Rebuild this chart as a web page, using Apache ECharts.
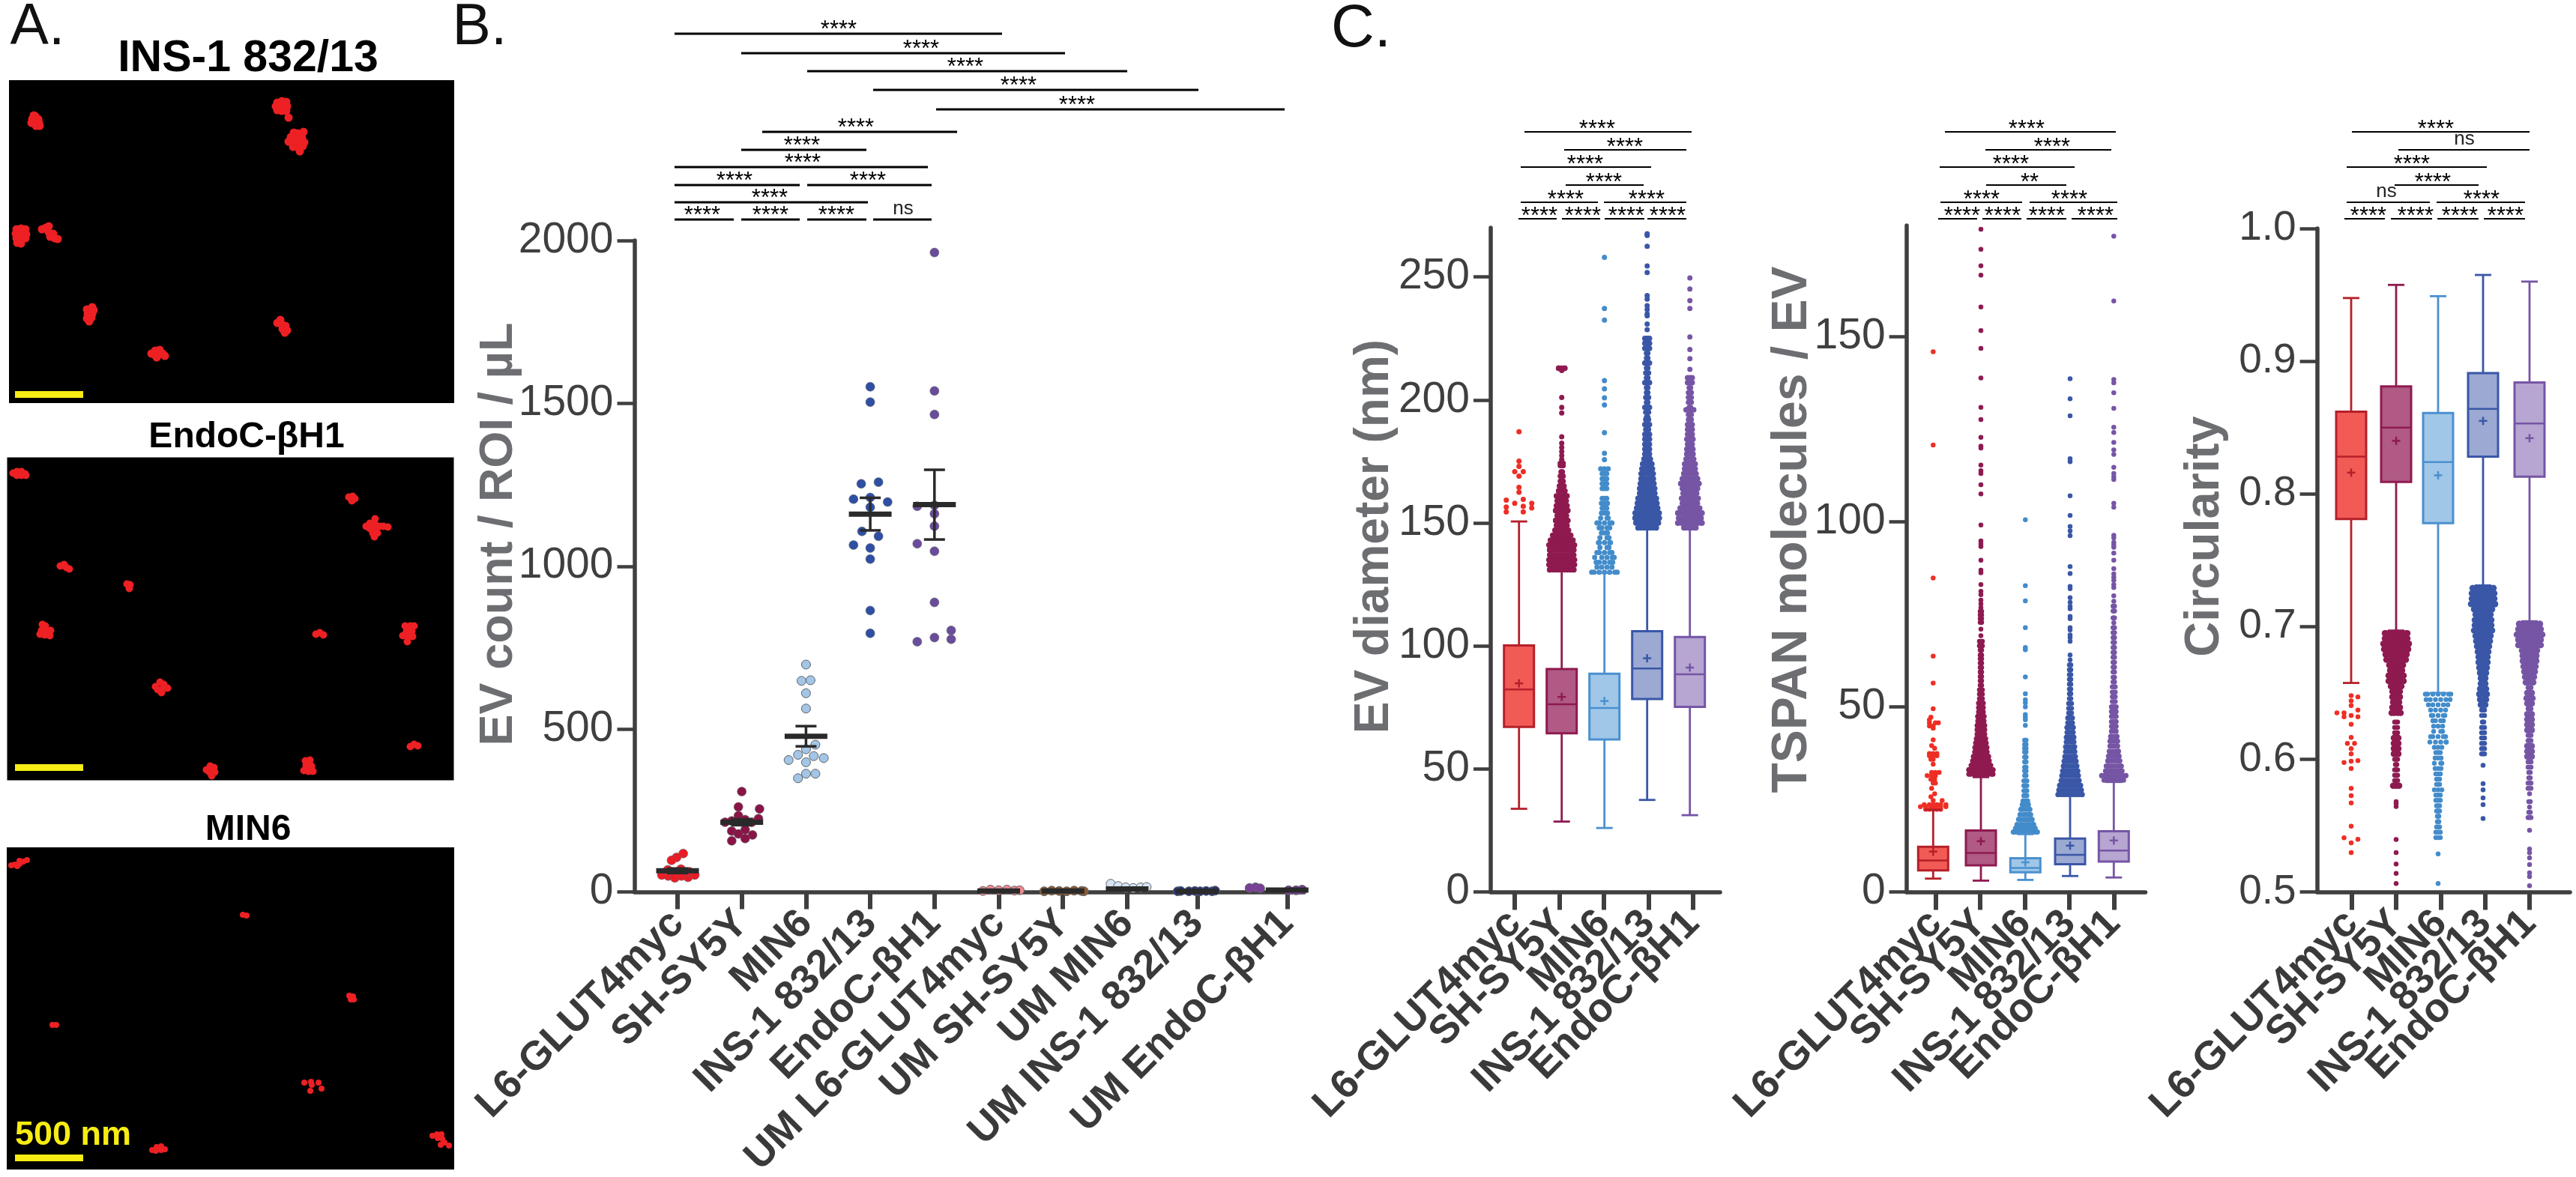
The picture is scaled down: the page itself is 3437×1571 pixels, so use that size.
<!DOCTYPE html>
<html><head><meta charset="utf-8">
<style>html,body{margin:0;padding:0;background:#fff}#c{width:3437px;height:1571px}</style>
<script src="https://cdn.jsdelivr.net/npm/echarts@6/dist/echarts.min.js"></script>
</head><body><div id="c"></div>
<script>
/* ---------- categories and tick labels ---------- */
const cellLines = ['L6-GLUT4myc','SH-SY5Y','MIN6','INS-1 832/13','EndoC-βH1'];
const umLines = ['UM L6-GLUT4myc','UM SH-SY5Y','UM MIN6','UM INS-1 832/13','UM EndoC-βH1'];
const countLabels = cellLines.concat(umLines);
const countTicks = [0,500,1000,1500,2000];
const diamTicks = [0,50,100,150,200,250];
const tspanTicks = [0,50,100,150];
const circTicks = [0.5,0.6,0.7,0.8,0.9,1.0];

/* ---------- panel B: EV count / ROI / µL  [offset px, value] ---------- */
const countL6 = [[7.6,118],[-1.3,106],[-8,97],[-21,52],[-12.5,49],[-3.6,43],[5.4,49],[14,45],[23,52],[-13,68],[4.5,70],[15.6,62]];
const countSH = [[0,308],[-4.5,261],[23.7,255],[-4.5,234],[22.3,225],[-22.3,214],[-13.4,218],[4.5,222],[13.4,214],[-13.4,187],[-4.5,178],[4.5,191],[14.3,175],[-13.4,157],[4.5,164]];
const countMIN6 = [[0,698],[-6,648],[6,650],[0,610],[0,563],[12.5,452],[0,438],[-10.7,421],[10.3,417],[23.7,411],[-23.2,405],[0,398],[0,363],[12.5,363],[-10.7,349]];
const countINS = [[0,1551],[0,1504],[-12,1253],[11,1258],[-22.3,1206],[0,1211],[23.2,1197],[0,1181],[-11,1107],[11,1092],[-22.3,1065],[0,1056],[0,1022],[0,864],[0,794]];
const countEndo = [[0,1963],[0,1538],[0,1466],[-23,1184],[0,1187],[0,1161],[0,1123],[-23,1069],[0,1046],[0,889],[22.3,803],[22.3,776],[0,781],[-23,768]];
const countUML6 = [[-21,3],[-11,7],[0,5],[11,7],[21,4],[28,5]];
const countUMSH = [[-25,2],[-15,4],[-5,3],[5,2],[15,4],[25,3],[28,2]];
const countUMMIN6 = [[-22,25],[-12,18],[-2,14],[8,12],[18,14],[26,15]];
const countUMINS = [[-26,2],[-22,3],[-11,2],[-3,3],[4,2],[12,3],[20,2],[24,4]];
const countUMEndo = [[-50,12],[-42,14],[-36,11],[2,5],[12,5],[20,7]];
const countMean = [65,214,478,1160,1189,3,3,9,2,6];
const countSem  = [7,9,31,50,107,1,1,2,1,1];

/* ---------- panel C: box statistics [low, q1, median, q3, high, mean] ---------- */
const diamBoxes = [[33.8,67.1,82.3,100.2,150.6,84.8],[28.6,64.5,76.3,90.6,130.8,79.3],[26,62,74.8,88.7,129.7,77.6],[37.4,78.4,90.8,106,149,95],[31.2,75.2,88.5,103.6,149,91.2]];
const tspanBoxes = [[3.6,5.8,8.5,12.2,22.2,10.9],[3.05,7.2,10.5,16.6,31,13.7],[3.25,5.3,6.5,9.1,15.6,8],[4.3,7.5,10,14.4,26,12.5],[3.9,8.2,11.2,16.4,29.7,13.9]];
const circBoxes = [[0.6575,0.781,0.828,0.862,0.9476,0.816],[0.697,0.809,0.85,0.881,0.9575,0.84],[0.65,0.778,0.824,0.861,0.949,0.814],[0.731,0.828,0.864,0.891,0.965,0.855],[0.704,0.813,0.853,0.884,0.96,0.842]];

/* ---------- panel C outliers: first group [offset px, value], others [value, half spread px] ---------- */
const diamL6 = [[0,187.1],[0,175.1],[0,173],[-5.7,170.9],[5.7,170.9],[0,169],[0,164.5],[0,162.5],[-17,159.3],[5.7,159.6],[-5.7,158],[17,158],[-17,156.5],[5.7,156.8],[17,156.1],[-17,154.5],[5.7,154.5]];
const diamSH = [[212.9,4],[212,0],[201,0],[197,0],[194.7,0],[185,0],[182.4,0],[180.7,0],[179,0],[177.4,0],[175.8,0],[174.3,2],[173.3,2],[170.8,1],[169.2,1],[169,2],[167,2],[165,3],[163,4],[161,7],[159,6],[157,7],[155,8],[153,6],[151,8],[149,7],[147,9],[145,12],[143,15],[141,17],[139,16],[137,16],[135,17],[133,17],[131,16]];
const diamMIN6 = [[258,0],[237.2,0],[232.5,0],[207.9,0],[204.5,0],[200.9,0],[198,0],[186.7,0],[178.3,0],[175.7,0],[172,5],[170,3],[168,3],[166,3],[164,3],[160,3],[158,4],[156,3],[154,4],[152,5],[150,10],[148,7],[146,4],[144,6],[142,8],[140,6],[138,10],[136,13],[134,11],[132,10],[130,17]];
const diamINS = [[267.6,0],[266.9,0],[262.5,0],[254.5,0],[251.8,0],[242.4,0],[241,0],[238.3,0],[236.8,0],[235,0],[234.2,0],[230.9,0],[228.6,0],[225,3],[223,3],[221,3],[219,1],[217,1],[215,3],[213,1],[211,2],[209,1],[207,3],[205,1],[203,1],[201,2],[199,1],[197,3],[195,2],[193,1],[192,2],[190,3],[188,2],[186,3],[184,3],[182,3],[180,3],[178,3],[176,4],[174,6],[172,7],[170,8],[168,8],[166,9],[164,10],[162,10],[160,12],[158,13],[156,14],[154,16],[152,16],[150,15],[148,12]];
const diamEndo = [[249.6,0],[245.1,0],[240.4,0],[237.2,0],[225.6,0],[220.5,0],[216.8,0],[212.4,0],[209,3],[207,3],[205,1],[203,2],[201,2],[199,2],[197,1],[196,5],[194,2],[192,2],[190,3],[188,3],[186,3],[184,4],[182,3],[180,4],[178,4],[176,5],[174,7],[172,7],[170,8],[168,10],[166,12],[164,10],[162,9],[160,11],[158,10],[156,13],[154,16],[152,15],[150,16],[148,8]];

const tspanL6 = [[0,145.9],[0,120.7],[0,84.8],[0,63.7],[0,56.4],[0,49.5],[-3,47.2],[-5,46.5],[-5,45.7],[3,45.7],[7,45.7],[-5,44.8],[0,44.8],[0,44.2],[0,41.1],[-2,39.5],[2,38.8],[-5,37.4],[0,37.4],[5,37.4],[-5,36.8],[0,36.8],[5,36.8],[-3,35.8],[0,35.8],[0,34.5],[-2,32.3],[3,32.3],[8,32.3],[-8,31.4],[-2,31.4],[3,31.4],[-3,30.4],[2,30.4],[0,29.4],[3,29.4],[-2,28],[2,26.5],[-3,25.7],[0,24.7],[12,24.7],[-12,23.6],[-5,23.6],[0,23.6],[5,23.6],[10,23.6],[17,23.6],[-17,23],[-10,23],[-3,23],[3,23],[10,23],[17,23],[-10,22.3],[-5,22.3],[0,22.3],[5,22.3],[10,22.3]];
const tspanSH = [[179,0],[173.6,0],[169.1,0],[166.6,0],[158,0],[151.6,0],[146.8,0],[138.8,0],[130.9,0],[127.6,0],[122.8,0],[120.4,0],[119.9,0],[115.3,0],[113.8,0],[113,0],[110,0],[107.5,0],[99.1,0],[94.8,0],[94,0],[93.3,0],[89.6,0],[86.9,0],[86.2,0],[83,0],[81.2,0],[80.3,0],[78.8,0],[77.8,0],[76.8,0],[75.8,1],[74.8,1],[73.8,1],[72.8,1],[71,0],[69.2,0],[67.7,2],[66.5,2],[65.3,1],[64,1],[63,1],[61.8,1],[60.6,1],[59.4,1],[58.2,1],[57,1],[55.8,1],[54.6,2],[53.4,2],[52.2,2],[51,3],[49.8,3],[48.6,3],[47.4,4],[46.2,4],[45,5],[43.8,5],[42.6,5],[41.4,6],[40.2,7],[39,8],[37.8,8],[36.6,10],[35.4,11],[34.2,13],[33,16],[31.8,16]];
const tspanMIN6 = [[100.5,0],[82.7,0],[78.6,0],[71.4,0],[66,0],[65.4,0],[58.1,0],[53.5,0],[51.9,0],[51.1,0],[50,0],[47.9,0],[47.2,0],[46.5,0],[45,0],[41,1],[39.8,1],[38.8,1],[37.8,1],[36.4,1],[35.1,1],[33.7,1],[32.7,1],[31.4,1],[30,2],[28.7,2],[27.3,2],[26,2],[24.6,3],[23.6,4],[22.3,6],[20.9,7],[19.6,9],[18.2,11],[17.2,13],[16.2,16]];
const tspanINS = [[138.6,0],[133.2,0],[128.6,0],[117,0],[116.2,0],[107,0],[101.7,0],[98.7,0],[97.5,0],[96.2,0],[87.9,0],[86,0],[82.5,0],[81.9,0],[79.5,0],[78.2,0],[77.1,0],[76.5,0],[74.4,0],[73.8,0],[71.4,0],[70.8,0],[69.4,0],[68.7,0],[67.7,0],[64,0],[62.7,0],[61.3,1],[60,1],[58.7,1],[57.4,1],[56.1,1],[54.8,1],[53.5,1],[52.2,1],[50.9,2],[49.6,2],[48.3,2],[47,3],[45.7,3],[44.4,4],[43.1,4],[41.8,5],[40.5,5],[39.2,6],[37.9,6],[36.6,7],[35.3,8],[34,9],[32.7,10],[31.4,11],[30.1,12],[28.8,14],[27.5,15],[26.3,16]];
const tspanEndo = [[177.1,0],[159.6,0],[138.4,0],[137.5,0],[134.8,0],[130.6,0],[125.5,0],[124.1,0],[121.4,0],[119.4,0],[118.2,0],[114.7,0],[113,0],[112.1,0],[111.4,0],[105,0],[103.9,0],[96.3,0],[95.6,0],[94.4,0],[93.7,0],[93.1,0],[91.5,0],[89.6,0],[87.3,0],[85.9,0],[85,0],[84.2,0],[83,0],[82.2,0],[80,0],[78.5,0],[77.2,1],[75.9,1],[74,1],[72.7,0],[71.4,1],[70,1],[68.7,1],[67.4,1],[66,1],[64.7,1],[63.4,1],[62,1],[60.7,1],[59.4,1],[58,1],[56.7,1],[55.4,2],[54,2],[52.7,2],[51.4,2],[50,3],[48.7,3],[47.4,3],[46,3],[44.7,3],[43.4,3],[42,4],[40.7,5],[39.4,5],[38,6],[36.7,7],[35.4,8],[34,10],[32.7,11],[31.4,16],[30.2,13]];

const circL6 = [[0,0.648],[9,0.647],[0,0.644],[0,0.6405],[9,0.637],[-9.5,0.635],[-19,0.635],[-9.5,0.632],[0,0.633],[9,0.632],[0,0.6264],[0,0.6164],[-5,0.612],[4.5,0.612],[0,0.608],[0,0.604],[9,0.599],[0,0.5986],[-9.5,0.5976],[0,0.593],[0,0.578],[0,0.5726],[0,0.567],[0,0.5496],[-9.5,0.5408],[9,0.5396],[0,0.537],[0,0.5297]];
const circSH = [[0.695,15],[0.691,15],[0.687,17],[0.683,16],[0.679,14],[0.675,13],[0.671,9],[0.667,8],[0.663,10],[0.659,10],[0.655,7],[0.651,5],[0.647,5],[0.643,4],[0.639,5],[0.635,6],[0.628,2],[0.624,2],[0.62,2],[0.616,3],[0.612,3],[0.608,3],[0.604,3],[0.6,2],[0.596,1],[0.592,2],[0.588,2],[0.584,2],[0.58,4],[0.568,0],[0.5666,0],[0.5643,0],[0.5395,0],[0.5297,0],[0.521,0],[0.514,0],[0.5063,0]];
const circMIN6 = [[0.649,17],[0.645,16],[0.641,13],[0.637,10],[0.633,9],[0.629,7],[0.625,6],[0.621,6],[0.617,10],[0.613,11],[0.609,5],[0.605,3],[0.601,4],[0.597,5],[0.593,4],[0.589,3],[0.585,2],[0.581,2],[0.577,5],[0.573,3],[0.569,3],[0.565,2],[0.561,2],[0.557,1],[0.553,1],[0.549,2],[0.545,3],[0.541,3],[0.5287,0],[0.5063,0]];
const circINS = [[0.729,14],[0.725,15],[0.721,15],[0.717,16],[0.713,12],[0.709,10],[0.705,11],[0.701,11],[0.697,12],[0.693,10],[0.689,9],[0.685,8],[0.681,7],[0.677,6],[0.673,6],[0.669,5],[0.665,4],[0.661,3],[0.657,3],[0.653,4],[0.649,5],[0.645,4],[0.641,3],[0.637,2],[0.633,2],[0.628,1],[0.624,2],[0.62,2],[0.616,2],[0.612,2],[0.608,2],[0.604,2],[0.5954,0],[0.5816,0],[0.577,0],[0.5709,0],[0.5658,0],[0.5553,0]];
const circEndo = [[0.702,14],[0.698,15],[0.694,17],[0.69,15],[0.686,15],[0.682,10],[0.678,9],[0.674,9],[0.67,8],[0.666,7],[0.662,6],[0.658,5],[0.654,2],[0.65,3],[0.646,4],[0.642,3],[0.638,2],[0.634,3],[0.63,3],[0.626,3],[0.622,3],[0.618,2],[0.614,2],[0.61,3],[0.606,3],[0.602,3],[0.598,2],[0.594,2],[0.59,1],[0.586,1],[0.582,2],[0.578,2],[0.574,0],[0.568,1],[0.564,0],[0.56,1],[0.556,2],[0.5464,0],[0.5323,0],[0.5295,0],[0.5257,0],[0.5206,0],[0.5144,0],[0.5116,0],[0.5046,0]];

/* ---------- panel A: localisations in each image ---------- */
const imageINS = [[35,48],[31,52],[39,52],[30,57],[35,56],[40,57],[36,61],[41,61],[33,47],[358,30],[364,28],[370,29],[356,35],[363,35],[371,35],[358,40],[364,41],[370,41],[373,50],[380,70],[385,71],[376,76],[383,76],[391,77],[373,82],[380,83],[388,83],[394,83],[379,89],[386,90],[392,88],[388,95],[393,69],[10,199],[16,198],[22,199],[9,205],[16,205],[23,206],[10,211],[16,212],[22,211],[11,217],[16,218],[53,203],[59,205],[55,209],[61,211],[65,212],[44,199],[49,197],[53,195],[104,306],[111,303],[113,307],[105,312],[111,312],[104,318],[110,317],[107,322],[362,320],[358,324],[364,326],[369,328],[365,332],[371,334],[368,337],[190,365],[195,361],[201,360],[195,367],[201,366],[205,365],[197,370],[208,368]];
const imageEndo = [[8,21],[13,19],[19,19],[24,22],[13,24],[19,24],[25,24],[456,53],[461,52],[464,55],[460,58],[479,92],[484,88],[490,87],[484,95],[491,95],[497,92],[488,101],[494,101],[490,106],[502,92],[508,93],[491,82],[71,145],[76,143],[79,147],[83,149],[160,169],[164,170],[163,175],[47,223],[51,225],[46,231],[52,232],[58,231],[44,236],[50,237],[57,238],[412,236],[417,234],[422,237],[531,225],[538,225],[543,225],[533,232],[540,232],[528,238],[535,240],[541,239],[534,246],[198,306],[204,300],[209,303],[201,310],[208,309],[214,308],[206,314],[266,417],[271,412],[276,414],[270,420],[277,420],[273,425],[398,405],[404,404],[399,411],[406,412],[396,418],[402,419],[408,419],[538,386],[543,383],[548,385]];
const imageMIN6 = [[6,24],[11,23],[17,22],[22,19],[27,17],[17,18],[14,25],[315,90],[320,91],[61,237],[66,237],[457,198],[462,199],[459,203],[463,203],[397,314],[406,313],[407,317],[416,314],[405,325],[420,322],[194,404],[200,400],[206,399],[211,403],[199,405],[206,404],[568,385],[574,383],[580,383],[575,388],[581,389],[584,394],[590,398],[579,397]];

/* ---------- significance annotations: [x1, x2, line y, text x] on the page ---------- */
const sigB = [[900,1337,45,1119],[989,1421,71,1229],[1077,1504,95,1288],[1165,1599,120,1359],[1249,1714,146,1437],[1017,1277,176,1142],[989,1156,200,1070],[900,1238,223,1071],[900,1067,247,980],[1077,1243,247,1158],[900,1158,270,1027],[900,979,293,937],[989,1067,293,1028],[1077,1156,293,1116],[1165,1243,293,1205]];
const sigBText = ['****','****','****','****','****','****','****','****','****','****','****','****','****','****','ns'];
const sigYs = [176,200,223,247,270,270,292,292,292,292];
const sigC1 = [[2034,2257,2131],[2087,2250,2168],[2029,2203,2115],[2089,2193,2140],[2029,2132,2089],[2140,2250,2197],[2026,2077,2054],[2084,2135,2112],[2141,2194,2170],[2198,2250,2225]];
const sigC1Text = ['****','****','****','****','****','****','****','****','****','****'];
const sigC2 = [[2595,2823,2704],[2649,2817,2738],[2588,2768,2683],[2650,2757,2708],[2589,2698,2644],[2708,2825,2761],[2586,2638,2618],[2645,2697,2672],[2704,2757,2731],[2764,2825,2796]];
const sigC2Text = ['****','****','****','**','****','****','****','****','****','****'];
const sigC3 = [[3138,3375,3250],[3200,3375,3288],[3131,3318,3218],[3195,3307,3246],[3131,3242,3184],[3251,3369,3311],[3128,3182,3160],[3190,3245,3223],[3252,3307,3282],[3314,3369,3343]];
const sigC3Text = ['****','ns','****','****','ns','****','****','****','****','****'];

/* ---------- styles ---------- */
const FONT = '"Liberation Sans", Arial, sans-serif';
const AXIS = '#3f3f3f', NAME = '#6d6e71';
const stroke = ['#b5202a','#8e1a50','#4a90cf','#3a57a7','#7655a5'];
const fill = ['#f15a55','#b05a85','#a0c7e8','#9ba9d3','#b7a5d2'];
const dot = ['#ee2e24','#8e1a50','#438ccb','#3a57a7','#7655a5'];
const countFill = ['#ed1c24','#8a1445','#a3c5e6','#2e4fa3','#6a4c9c','#ef8a8f','#8c5a30','#d5e4f3','#25347a','#7b3f98'];

const grids=[], xAxes=[], yAxes=[], series=[];
function addGrid(g,x,y){g.outerBoundsMode='none';g.containLabel=false;grids.push(g);xAxes.push(Object.assign({gridIndex:grids.length-1},x));yAxes.push(Object.assign({gridIndex:grids.length-1},y));return grids.length-1;}
const hiddenAxis = {show:false,type:'value',axisLine:{show:false},axisTick:{show:false},axisLabel:{show:false},splitLine:{show:false}};

/* images */
[[12,107,594,431,imageINS,419.5,8,11],[9.5,610.5,596,431,imageEndo,414,10.5,10],[9,1131,597,430,imageMIN6,414.5,11,8]].forEach(a=>{
  const g=addGrid({left:a[0],top:a[1],width:a[2],height:a[3],show:true,backgroundColor:'#000',borderWidth:0},
    Object.assign({},hiddenAxis,{min:0,max:a[2]}),Object.assign({},hiddenAxis,{min:0,max:a[3],inverse:true}));
  series.push({type:'scatter',xAxisIndex:g,yAxisIndex:g,data:a[4],symbolSize:a[7],itemStyle:{color:'#ed2024',opacity:1},silent:true});
  series.push({type:'line',xAxisIndex:g,yAxisIndex:g,data:[[a[6],a[5]],[a[6]+91,a[5]]],symbol:'none',lineStyle:{color:'#f7ec13',width:9,cap:'butt'},silent:true});
});

function valueX(min,max,ticks,names,tickLen,margin){
  /* the axis ends get blank labels so that the min/max-label overlap check leaves the real ones alone */
  return {type:'value',min,max,splitLine:{show:false},
    axisLine:{show:true,onZero:false,lineStyle:{color:AXIS,width:5.5}},
    axisTick:{show:true,length:tickLen,inside:false,customValues:ticks,lineStyle:{color:AXIS,width:6}},
    axisLabel:{customValues:[min].concat(ticks,[max]),rotate:45,margin,color:'#3a3a3a',fontFamily:FONT,fontWeight:'bold',fontSize:54,
      hideOverlap:false,
      formatter:v=>{const i=ticks.indexOf(v);return i<0?'':names[i];}}};
}
function valueY(min,max,ticks,digits){
  return {type:'value',min,max,splitLine:{show:false},
    axisLine:{show:true,onZero:false,lineStyle:{color:AXIS,width:5.5}},
    axisTick:{show:true,length:23,customValues:ticks,lineStyle:{color:AXIS,width:4.5}},
    axisLabel:{customValues:ticks,margin:28,color:AXIS,fontFamily:FONT,fontSize:digits?55:57,
      showMinLabel:true,showMaxLabel:true,hideOverlap:false,
      formatter:v=>digits?v.toFixed(digits):String(v)}};
}

/* panel B */
const SPACE_B=85.7, FIRST_B=904;
const countPos=[0,1,2,3,4,5,6,7,8.09,9.49];
const gB=addGrid({left:846.5,top:321,width:893.5,height:869.5},
  valueX((846.5-FIRST_B)/SPACE_B,(1740-FIRST_B)/SPACE_B,countPos,countLabels,23,34),
  valueY(0,2000,countTicks,0));
[countL6,countSH,countMIN6,countINS,countEndo,countUML6,countUMSH,countUMMIN6,countUMINS,countUMEndo].forEach((pts,i)=>{
  series.push({type:'scatter',name:countLabels[i],xAxisIndex:gB,yAxisIndex:gB,symbolSize:12,
    data:pts.map(p=>[countPos[i]+p[0]/SPACE_B,p[1]]),
    itemStyle:{color:countFill[i],opacity:1,borderColor:'#5f6368',borderWidth:i<5&&i!==2?0.6:1}});
});
series.push({type:'custom',xAxisIndex:gB,yAxisIndex:gB,clip:false,z:5,
  data:countMean.map((m,i)=>[countPos[i],m,countSem[i]]),
  renderItem(p,api){
    const x=api.value(0),m=api.value(1),s=api.value(2);
    const c=api.coord([x,m]),t=api.coord([x,m+s]),b=api.coord([x,m-s]);
    const ls={stroke:'#2a2a2a',lineWidth:3.5}, W=28.5, C=14;
    const line=(x1,y1,x2,y2,st)=>({type:'line',shape:{x1,y1,x2,y2},style:st});
    return {type:'group',children:[
      line(c[0]-W,c[1],c[0]+W,c[1],{stroke:'#2a2a2a',lineWidth:7}),
      line(c[0],t[1],c[0],b[1],ls),
      line(c[0]-C,t[1],c[0]+C,t[1],ls),
      line(c[0]-C,b[1],c[0]+C,b[1],ls)]};
  }});

/* panel C */
function boxPanel(o){
  const xmin=(o.left-o.first)/o.space, xmax=(o.right-o.first)/o.space, ticks=[0,1,2,3,4];
  const g=addGrid({left:o.left,top:o.top,width:o.right-o.left,height:1190.5-o.top},
    valueX(xmin,xmax,ticks,cellLines,24,34),valueY(o.min,o.max,o.ticks,o.digits));
  const pos=o.boxPx.map(p=>(p-o.first)/o.space);
  o.swarms.forEach((rows,i)=>{
    const data=[];
    const sparse=(i===2&&o.sparseMIN6);
    const step=sparse?7:o.step;
    if(i===0){ rows.forEach(r=>data.push([pos[0]+r[0]/o.space,r[1]])); }
    else rows.forEach((r,ri)=>{
      /* beeswarm layout: a row's dots fan out from the centre; every other row is staggered */
      const v=r[0],h=r[1],n=Math.floor(h/step),size=(!sparse&&h>=o.denseFrom)?o.dense:o.dot;
      const shift=(h>=4&&ri%2)?step/2:0;
      const put=off=>data.push({value:[pos[i]+off/o.space,v],symbolSize:size});
      put(shift);
      for(let k=1;k<=n;k++){ if(k*step+shift<=h) put(k*step+shift); if(k*step-shift<=h) put(-k*step+shift); }
      if(h>0){put(h);put(-h);}
    });
    series.push({type:'scatter',name:cellLines[i],xAxisIndex:g,yAxisIndex:g,data,symbolSize:o.dot,
      itemStyle:{color:dot[i],opacity:1},silent:true});
  });
  series.push({type:'custom',xAxisIndex:g,yAxisIndex:g,clip:false,z:3,
    encode:{x:0,y:[1,2,3,4,5,6]},
    data:o.boxes.map((b,i)=>[pos[i]].concat(b)),
    renderItem(p,api){
      const i=p.dataIndex,x=api.value(0),Y=k=>api.coord([x,api.value(k)])[1];
      const X=api.coord([x,0])[0],st={stroke:stroke[i],lineWidth:2.8},H=20,C=11,M=5.5;
      const line=(x1,y1,x2,y2,w)=>({type:'line',shape:{x1,y1,x2,y2},style:w?{stroke:stroke[i],lineWidth:w}:st});
      const low=Y(1),q1=Y(2),med=Y(3),q3=Y(4),high=Y(5),mean=Y(6);
      return {type:'group',children:[
        line(X,high,X,q3),line(X,q1,X,low),
        line(X-C,high,X+C,high),line(X-C,low,X+C,low),
        {type:'rect',shape:{x:X-H,y:q3,width:2*H,height:q1-q3},style:{fill:fill[i],stroke:stroke[i],lineWidth:3}},
        line(X-H,med,X+H,med,2.5),
        line(X-M,mean,X+M,mean,2.5),line(X,mean-M,X,mean+M,2.5)]};
    }});
}
boxPanel({left:1989,right:2295,top:304,first:2021,space:59.5,min:0,max:270,ticks:diamTicks,digits:0,step:4,dot:7,dense:7.5,denseFrom:3,sparseMIN6:true,
  boxPx:[2026.7,2083.7,2140.7,2197.7,2254.7],boxes:diamBoxes,swarms:[diamL6,diamSH,diamMIN6,diamINS,diamEndo]});
boxPanel({left:2543.6,right:2862.5,top:301,first:2582.5,space:59.5,min:0,max:180,ticks:tspanTicks,digits:0,step:4,dot:6.5,dense:7,denseFrom:3,sparseMIN6:false,
  boxPx:[2579.3,2643,2702.3,2762,2820.3],boxes:tspanBoxes,swarms:[tspanL6,tspanSH,tspanMIN6,tspanINS,tspanEndo]});
boxPanel({left:3091.6,right:3429,top:305,first:3137.6,space:59.4,min:0.5,max:1,ticks:circTicks,digits:1,step:4.5,dot:6.5,dense:8.5,denseFrom:3,sparseMIN6:true,
  boxPx:[3137,3197,3253,3313,3375],boxes:circBoxes,swarms:[circL6,circSH,circMIN6,circINS,circEndo]});

/* overlay for significance lines, in page units */
const gO=addGrid({left:0,top:0,width:3437,height:1571},Object.assign({},hiddenAxis,{min:0,max:3437}),Object.assign({},hiddenAxis,{min:0,max:1571,inverse:true}));
function sigSeries(rows,texts,lw,size,shift){
  series.push({type:'custom',xAxisIndex:gO,yAxisIndex:gO,clip:false,silent:true,z:6,
    data:rows,
    renderItem(p,api){
      const a=api.coord([api.value(0),api.value(2)]),b=api.coord([api.value(1),api.value(2)]),c=api.coord([api.value(3),api.value(2)]);
      const t=texts[p.dataIndex],ns=t==='ns';
      return {type:'group',children:[
        {type:'line',shape:{x1:a[0],y1:a[1],x2:b[0],y2:b[1]},style:{stroke:'#000',lineWidth:lw}},
        {type:'text',x:c[0],y:a[1]-(ns?14:shift),style:{text:t,fill:ns?'#222':'#000',align:'center',verticalAlign:'middle',font:(ns?'26px ':size+'px ')+FONT}}]};
    }});
}
sigSeries(sigB,sigBText,2.8,31,5);
sigSeries(sigC1.map((r,i)=>[r[0],r[1],sigYs[i],r[2]]),sigC1Text,2,31,3);
sigSeries(sigC2.map((r,i)=>[r[0],r[1],sigYs[i],r[2]]),sigC2Text,2,31,3);
sigSeries(sigC3.map((r,i)=>[r[0],r[1],sigYs[i],r[2]]),sigC3Text,2,31,3);

/* text */
const t=(text,x,y,font,fill,extra)=>Object.assign({type:'text',x,y,silent:true,style:{text,font:font+' '+FONT,fill,align:'center',verticalAlign:'middle'}},extra||{});
const vt=(text,x,y,size)=>t(text,x,y,'bold '+size+'px',NAME,{rotation:Math.PI/2});
const graphics=[
  t('A.',50,38,'77px','#111'),t('B.',640,38,'77px','#111'),t('C.',1816,40,'80px','#111'),
  t('INS-1 832/13',331,79,'bold 59px','#000'),
  t('EndoC-βH1',329,584,'bold 48px','#000'),
  t('MIN6',331,1108,'bold 48px','#000'),
  {type:'text',x:20,y:1516,silent:true,style:{text:'500 nm',font:'bold 45px '+FONT,fill:'#f7ec13',align:'left',verticalAlign:'middle'}},
  vt('EV count / ROI / µL',666,713,63),
  vt('EV diameter (nm)',1834,716,64),
  vt('TSPAN molecules / EV',2392,707,66),
  vt('Circularity',2942,716,65)
];

const chart=echarts.init(document.getElementById('c'),null,{renderer:'canvas',width:3437,height:1571});
chart.setOption({animation:false,backgroundColor:'#fff',grid:grids,xAxis:xAxes,yAxis:yAxes,series,graphic:graphics,tooltip:{show:false},legend:{show:false}});
</script></body></html>
